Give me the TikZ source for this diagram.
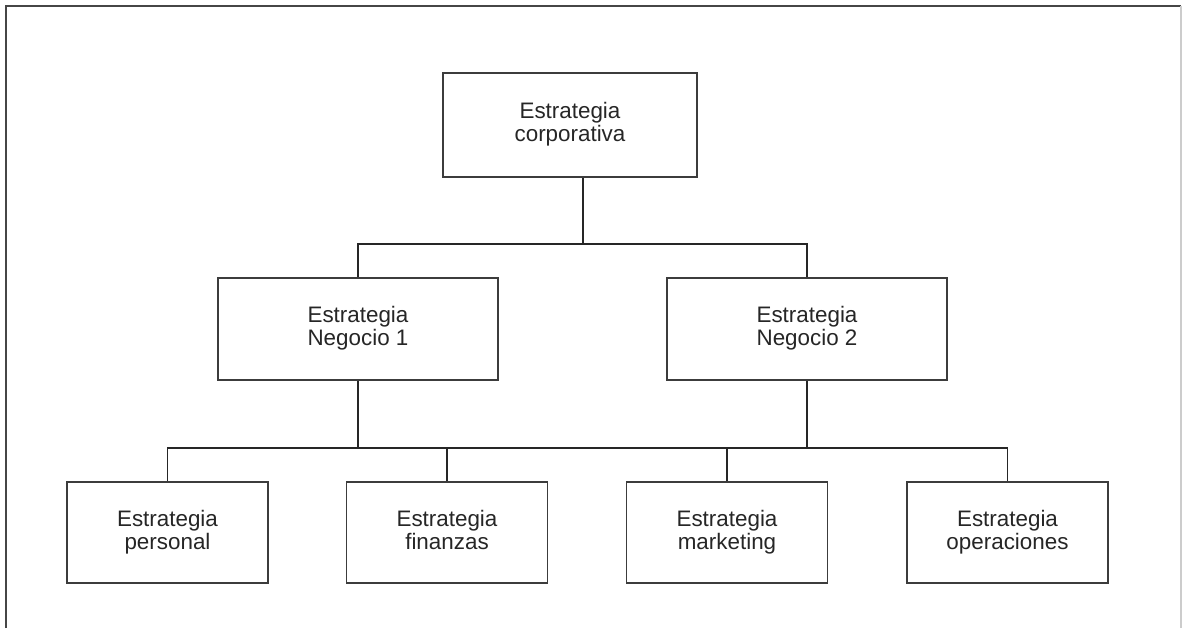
\documentclass[tikz,border=0pt]{standalone}
\usepackage{fontspec}
\setmainfont{Liberation Sans}
\definecolor{boxline}{RGB}{60,60,60}
\definecolor{frameline}{RGB}{70,70,70}
\begin{document}
\begin{tikzpicture}[x=0.5pt,y=-0.5pt,
  box/.style={draw=boxline,line width=0.95pt,fill=white,align=center,
    font=\fontsize{11.2}{10}\selectfont,text=black!85,inner sep=0pt,
    execute at end node={\strut}},
  topbox/.style={box,minimum width=127pt,minimum height=52pt},
  midbox/.style={box,minimum width=140pt,minimum height=51pt},
  lowbox/.style={box,minimum width=100.5pt,minimum height=50.5pt},
  conn/.style={draw=black!85,line width=0.85pt}]
\useasboundingbox (0,0) rectangle (1182,628);
% frame
\draw[frameline,line width=1.1pt] (6,628) -- (6,6) -- (1181,6);
\draw[black!20,line width=1pt] (1181,6) -- (1181,628);
% nodes
\node[topbox] (top) at (570,125) {Estrategia\\corporativa};
\node[midbox] (n1) at (358,329) {Estrategia\\Negocio 1};
\node[midbox] (n2) at (807,329) {Estrategia\\Negocio 2};
\node[lowbox] (b1) at (167.5,532.5) {Estrategia\\personal};
\node[lowbox] (b2) at (447,532.5) {Estrategia\\finanzas};
\node[lowbox] (b3) at (727,532.5) {Estrategia\\marketing};
\node[lowbox] (b4) at (1007.5,532.5) {Estrategia\\operaciones};
\coordinate (j1) at (583,244);
\coordinate (j2) at (583,448);
% connectors
\draw[conn] (top.south -| j1) -- (j1);
\draw[conn] (n1.north) |- (j1) -| (n2.north);
\draw[conn] (n1.south) -- (n1.south |- j2);
\draw[conn] (n2.south) -- (n2.south |- j2);
\draw[conn] (b1.north) |- (b4.north |- j2) -- (b4.north);
\draw[conn] (b2.north) -- (b2.north |- j2);
\draw[conn] (b3.north) -- (b3.north |- j2);
\end{tikzpicture}
\end{document}
